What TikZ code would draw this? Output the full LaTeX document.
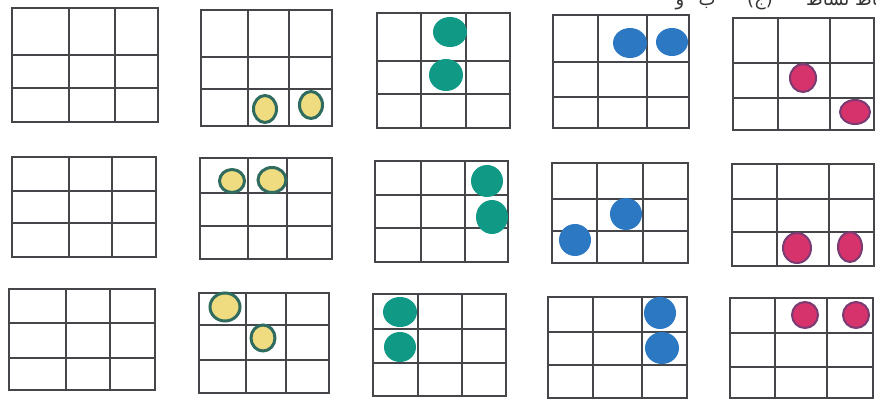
\documentclass[tikz,border=0pt]{standalone}
\usepackage{fontspec}
\newfontfamily\arabicfont[Script=Arabic]{DejaVu Sans}
\TeXXeTstate=1
\usetikzlibrary{shapes.geometric}
\definecolor{gridc}{HTML}{45454A}
\definecolor{yfill}{HTML}{EFDC80}
\definecolor{yline}{HTML}{2F6B5E}
\definecolor{tealc}{HTML}{109A86}
\definecolor{bluec}{HTML}{2C78C3}
\definecolor{crimf}{HTML}{D6336C}
\definecolor{criml}{HTML}{7A3A72}
\newcommand\gridbox[9]{%
  \coordinate (#1) at (#2,#6);
  \draw[gridline] (#2,#6) rectangle (#5,#9);
  \draw[gridline] (#3,#6) -- (#3,#9) (#4,#6) -- (#4,#9)
                  (#2,#7) -- (#5,#7) (#2,#8) -- (#5,#8);
}
\begin{document}
\begin{tikzpicture}[x=1pt,y=-1pt,
  gridline/.style={draw=gridc,line width=1.5pt},
  dotbase/.style={ellipse,inner sep=0pt,outer sep=0pt},
  ydot/.style={dotbase,fill=yfill,draw=yline,line width=3pt},
  tdot/.style={dotbase,fill=tealc},
  bdot/.style={dotbase,fill=bluec},
  cdot/.style={dotbase,fill=crimf,draw=criml,line width=2pt},
  artext/.style={font=\arabicfont\fontsize{18}{20}\selectfont,text=black!80,inner sep=0pt}]
\useasboundingbox (0,0) rectangle (876,403);
\clip (0,0) rectangle (876,403);
\fill[white] (0,0) rectangle (876,403);
% clipped heading fragment (cut off at the top edge, as in the reference)
\node[artext,anchor=base] (t1) at (680,6) {و};
\node[artext,anchor=base] (t2) at (707,6) {ب};
\node[artext,anchor=base] (t3) at (760,6) {(ج)};
\node[artext,anchor=base west] (t4) at (806,6) {\beginR نشاط نشاط\endR};
% row 1
\gridbox{g1}{12}{69}{115}{158}{8}{55}{88}{122}
\gridbox{g2}{201}{248}{289}{332}{10}{57}{89}{126}
\gridbox{g3}{377}{421}{466}{510}{13}{61}{94}{128}
\gridbox{g4}{553}{598}{647}{689}{15}{62}{97}{128}
\gridbox{g5}{733}{778}{830}{874}{18}{63}{98}{130}
% row 2
\gridbox{g6}{12}{69}{112}{156}{157}{191}{223}{257}
\gridbox{g7}{200}{248}{287}{332}{158}{193}{226}{259}
\gridbox{g8}{375}{421}{465}{508}{161}{195}{228}{262}
\gridbox{g9}{552}{597}{643}{688}{163}{199}{231}{263}
\gridbox{g10}{732}{777}{829}{874}{164}{199}{232}{266}
% row 3
\gridbox{g11}{9}{66}{110}{155}{289}{323}{358}{390}
\gridbox{g12}{199}{246}{286}{329}{293}{325}{360}{393}
\gridbox{g13}{373}{418}{462}{506}{294}{329}{363}{396}
\gridbox{g14}{548}{593}{642}{687}{297}{332}{365}{398}
\gridbox{g15}{730}{775}{827}{873}{298}{333}{367}{398}
% dots
\node[ydot,minimum width=23pt,minimum height=27pt] (d2a) at (265,109) {};
\node[ydot,minimum width=23pt,minimum height=27pt] (d2b) at (311,105) {};
\node[tdot,minimum width=34pt,minimum height=30pt] (d3a) at (450,32) {};
\node[tdot,minimum width=34pt,minimum height=32pt] (d3b) at (446,75) {};
\node[bdot,minimum width=34pt,minimum height=30pt] (d4a) at (630,43) {};
\node[bdot,minimum width=32pt,minimum height=28pt] (d4b) at (672,42) {};
\node[cdot,minimum width=26pt,minimum height=28pt] (d5a) at (803,78) {};
\node[cdot,minimum width=30pt,minimum height=24pt] (d5b) at (855,112) {};
\node[ydot,minimum width=25pt,minimum height=23pt] (d7a) at (232,181) {};
\node[ydot,minimum width=28pt,minimum height=25pt] (d7b) at (272,180) {};
\node[tdot,minimum width=32pt,minimum height=32pt] (d8a) at (487,181) {};
\node[tdot,minimum width=32pt,minimum height=34pt] (d8b) at (492,217) {};
\node[bdot,minimum width=32pt,minimum height=32pt] (d9a) at (575,240) {};
\node[bdot,minimum width=32pt,minimum height=32pt] (d9b) at (626,214) {};
\node[cdot,minimum width=28pt,minimum height=30pt] (d10a) at (797,248) {};
\node[cdot,minimum width=24pt,minimum height=30pt] (d10b) at (850,247) {};
\node[ydot,minimum width=30pt,minimum height=28pt] (d12a) at (225,307) {};
\node[ydot,minimum width=24pt,minimum height=26pt] (d12b) at (263,338) {};
\node[tdot,minimum width=34pt,minimum height=30pt] (d13a) at (400,312) {};
\node[tdot,minimum width=32pt,minimum height=30pt] (d13b) at (400,347) {};
\node[bdot,minimum width=32pt,minimum height=32pt] (d14a) at (660,313) {};
\node[bdot,minimum width=34pt,minimum height=32pt] (d14b) at (662,348) {};
\node[cdot,minimum width=26pt,minimum height=26pt] (d15a) at (805,315) {};
\node[cdot,minimum width=26pt,minimum height=26pt] (d15b) at (856,315) {};
\end{tikzpicture}
\end{document}
